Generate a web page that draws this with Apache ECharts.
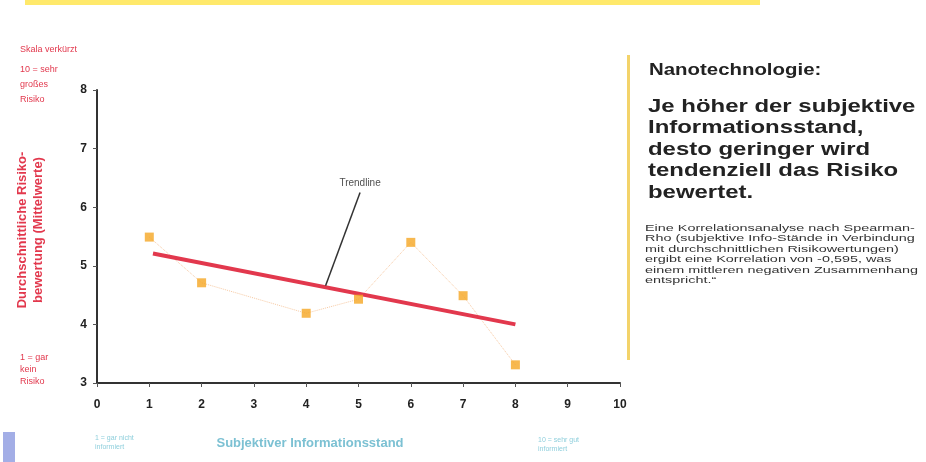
<!DOCTYPE html>
<html style="height: 100%">
<head>
  <meta charset="utf-8">
</head>
<body style="height: 100%; margin: 0; background: #fff">
  <div id="container" style="width: 926px; height: 462px"></div>
  <script type="text/javascript" src="https://cdn.jsdelivr.net/npm/echarts@6/dist/echarts.min.js"></script>
  <script type="text/javascript">
    // Informationsstand (x) vs. mittlere Risikobewertung (y)
    var infoLevels = [1, 2, 4, 5, 6, 7, 8];
    var riskMeans = [5.49, 4.71, 4.19, 4.43, 5.40, 4.49, 3.31];
    var trendX = [1.07, 8];
    var trendY = [5.21, 4.0];
    var pointerX = [5.03, 4.37];
    var pointerY = [6.25, 4.66];
    var xTicks = [0, 1, 2, 3, 4, 5, 6, 7, 8, 9, 10];
    var yTicks = [3, 4, 5, 6, 7, 8];

    var red = '#e2384d';
    var font = '"Liberation Sans", Arial, sans-serif';

    function pairs(xs, ys) {
      return xs.map(function (x, i) { return [x, ys[i]]; });
    }

    var dom = document.getElementById('container');
    var myChart = echarts.init(dom);
    var option = {
      backgroundColor: '#fff',
      animation: false,
      grid: { left: 97, right: 306, top: 90, bottom: 79 },
      xAxis: {
        type: 'value', min: xTicks[0], max: xTicks[xTicks.length - 1], interval: 1,
        splitLine: { show: false },
        axisLine: { lineStyle: { color: '#333', width: 2 } },
        axisTick: { length: 4, lineStyle: { color: '#555' } },
        axisLabel: { color: '#222', fontFamily: font, fontWeight: 'bold', fontSize: 12, margin: 16 }
      },
      yAxis: {
        type: 'value', min: yTicks[0], max: yTicks[yTicks.length - 1], interval: 1,
        splitLine: { show: false },
        axisLine: { show: true, lineStyle: { color: '#333', width: 2 } },
        axisTick: { show: true, length: 4, lineStyle: { color: '#555' } },
        axisLabel: { color: '#222', fontFamily: font, fontWeight: 'bold', fontSize: 12, margin: 10 }
      },
      series: [
        {
          type: 'line',
          data: pairs(infoLevels, riskMeans),
          symbol: 'none',
          lineStyle: { color: '#f2b27a', width: 1, type: 'dotted', opacity: 0.7 },
          z: 1
        },
        {
          type: 'line',
          data: pairs(trendX, trendY),
          symbol: 'none',
          lineStyle: { color: red, width: 4 },
          z: 2
        },
        {
          type: 'scatter',
          data: pairs(infoLevels, riskMeans),
          symbol: 'rect',
          symbolSize: 9,
          itemStyle: { color: '#f5a623' },
          z: 3
        },
        {
          type: 'line',
          data: pairs(pointerX, pointerY),
          symbol: 'none',
          lineStyle: { color: '#333', width: 1.5 },
          z: 4
        },
        {
          type: 'scatter',
          data: [[pointerX[0], pointerY[0]]],
          symbolSize: 1,
          itemStyle: { color: 'rgba(0,0,0,0)' },
          label: {
            show: true, position: 'top', distance: 4, formatter: 'Trendline',
            color: '#222', fontFamily: font, fontSize: 10
          },
          z: 4
        }
      ],
      graphic: [
        { type: 'rect', shape: { x: 25, y: 0, width: 735, height: 5 }, style: { fill: '#ffe96b' } },
        { type: 'rect', shape: { x: 3, y: 432, width: 12, height: 30 }, style: { fill: '#a3aee6' } },
        { type: 'rect', shape: { x: 627, y: 55, width: 3, height: 305 }, style: { fill: '#f3d36a' } },
        {
          type: 'text', x: 20, y: 45,
          style: { text: 'Skala verkürzt', fill: red, font: '9px ' + font }
        },
        {
          type: 'text', x: 20, y: 62,
          style: { text: '10 = sehr\ngroßes\nRisiko', fill: red, font: '9px ' + font, lineHeight: 15 }
        },
        {
          type: 'text', x: 20, y: 352,
          style: { text: '1 = gar\nkein\nRisiko', fill: red, font: '9px ' + font, lineHeight: 12 }
        },
        {
          type: 'text', x: 30, y: 230, rotation: Math.PI / 2,
          style: {
            text: 'Durchschnittliche Risiko-\nbewertung (Mittelwerte)',
            fill: red, font: 'bold 13px ' + font, align: 'center', verticalAlign: 'middle', lineHeight: 16
          }
        },
        {
          type: 'text', x: 310, y: 443,
          style: { text: 'Subjektiver Informationsstand', fill: '#7cc1d3', font: 'bold 13px ' + font, align: 'center', verticalAlign: 'middle' }
        },
        {
          type: 'text', x: 95, y: 434,
          style: { text: '1 = gar nicht\ninformiert', fill: '#8fcfdc', font: '7px ' + font, lineHeight: 9 }
        },
        {
          type: 'text', x: 538, y: 436,
          style: { text: '10 = sehr gut\ninformiert', fill: '#8fcfdc', font: '7px ' + font, lineHeight: 9 }
        },
        {
          type: 'text', x: 649, y: 62, scaleX: 1.2,
          style: { text: 'Nanotechnologie:', fill: '#222', font: 'bold 17px ' + font }
        },
        {
          type: 'text', x: 648, y: 96, scaleX: 1.33,
          style: {
            text: 'Je höher der subjektive\nInformationsstand,\ndesto geringer wird\ntendenziell das Risiko\nbewertet.',
            fill: '#222', font: 'bold 18px ' + font, lineHeight: 21.5
          }
        },
        {
          type: 'text', x: 645, y: 223, scaleX: 1.6,
          style: {
            text: 'Eine Korrelationsanalyse nach Spearman-\nRho (subjektive Info-Stände in Verbindung\nmit durchschnittlichen Risikowertungen)\nergibt eine Korrelation von -0,595, was\neinem mittleren negativen Zusammenhang\nentspricht.\u201c',
            fill: '#333', font: '9px ' + font, lineHeight: 10.5
          }
        }
      ]
    };
    myChart.setOption(option);
  </script>
</body>
</html>
